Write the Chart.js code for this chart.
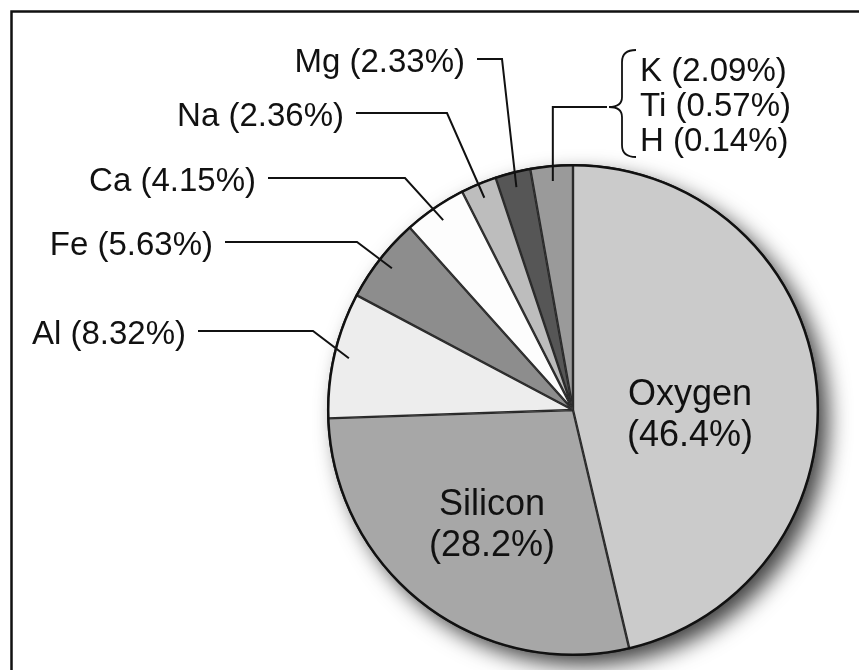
<!DOCTYPE html>
<html lang="en">
<head>
<meta charset="UTF-8">
<title>Elements in the Earth's crust</title>
<script src="https://cdn.jsdelivr.net/npm/chart.js"></script>
<style>
  html, body { margin: 0; padding: 0; background: #fff; overflow: hidden; }
  #wrap { width: 859px; height: 670px; }
</style>
</head>
<body>
<div id="wrap"><canvas id="crustChart" width="859" height="670"></canvas></div>

<script>
// percent by weight, clockwise from 12 o'clock
const elementNames = ['Oxygen', 'Silicon', 'Al', 'Fe', 'Ca', 'Na', 'Mg'];
const elementPercents = [46.4, 28.2, 8.32, 5.63, 4.15, 2.36, 2.33];
// the last slice lumps these together
const minorNames = ['K', 'Ti', 'H'];
const minorPercents = [2.09, 0.57, 0.14];

const sliceNames = elementNames.concat([minorNames.join(', ')]);
const sliceValues = elementPercents.concat([minorPercents.reduce((a, b) => a + b, 0)]);

const sliceColors = ['#cbcbcb', '#a7a7a7', '#ededed', '#8d8d8d', '#fdfdfd', '#bdbdbd', '#565656', '#9a9a9a'];

const fontFamily = '"Liberation Sans", Arial, Helvetica, sans-serif';
const ink = '#111';

// label placement (text baseline, right edge of text, x of the leader's bend)
const calloutRows = {
    Mg: {base: 72, right: 465, bend: 502},
    Na: {base: 126, right: 344, bend: 447},
    Ca: {base: 191, right: 256, bend: 405},
    Fe: {base: 255, right: 213, bend: 357},
    Al: {base: 344, right: 186, bend: 313}
};
const groupSpot = {lineY: 107, braceX: 609, braceTop: 50, braceBottom: 157, textX: 640, firstBase: 81, gap: 35};
const innerSpots = {
    Oxygen: {dx: 117, base: -5},
    Silicon: {dx: -81, base: 105}
};

const pct = v => '(' + v + '%)';

const frame = {
    id: 'frame',
    beforeDraw(chart) {
        const c = chart.ctx;
        c.save();
        c.fillStyle = '#fff';
        c.fillRect(0, 0, chart.width, chart.height);
        c.strokeStyle = '#111';
        c.lineWidth = 2.5;
        c.strokeRect(11.5, 11.5, chart.width + 20, chart.height + 20);
        c.restore();
    }
};

const pieShadow = {
    id: 'pieShadow',
    beforeDatasetsDraw(chart) {
        const arc = chart.getDatasetMeta(0).data[0];
        const c = chart.ctx;
        c.save();
        c.shadowColor = 'rgba(0,0,0,0.75)';
        c.shadowBlur = 22;
        c.shadowOffsetX = 10;
        c.shadowOffsetY = 10;
        c.fillStyle = '#fff';
        c.beginPath();
        c.arc(arc.x, arc.y, arc.outerRadius - 1, 0, Math.PI * 2);
        c.fill();
        c.restore();
    },
    afterDatasetsDraw(chart) {
        const arc = chart.getDatasetMeta(0).data[0];
        const c = chart.ctx;
        c.save();
        c.strokeStyle = ink;
        c.lineWidth = 2.5;
        c.beginPath();
        c.arc(arc.x, arc.y, arc.outerRadius - 1.2, 0, Math.PI * 2);
        c.stroke();
        c.restore();
    }
};

function anchor(arc, f) {
    const mid = (arc.startAngle + arc.endAngle) / 2;
    return {x: arc.x + Math.cos(mid) * arc.outerRadius * f, y: arc.y + Math.sin(mid) * arc.outerRadius * f};
}

const callouts = {
    id: 'callouts',
    afterDraw(chart) {
        const c = chart.ctx;
        const arcs = chart.getDatasetMeta(0).data;
        c.save();
        c.strokeStyle = ink;
        c.fillStyle = ink;
        c.lineWidth = 2;

        // outside labels with bent leaders
        c.font = '33px ' + fontFamily;
        c.textAlign = 'right';
        c.textBaseline = 'alphabetic';
        elementNames.forEach((name, i) => {
            const row = calloutRows[name];
            if (!row) return;
            const p = anchor(arcs[i], 0.935);
            const ly = row.base - 13;
            c.beginPath();
            c.moveTo(row.right + 12, ly);
            c.lineTo(row.bend, ly);
            c.lineTo(p.x, p.y);
            c.stroke();
            c.fillText(name + ' ' + pct(elementPercents[i]), row.right, row.base);
        });

        // grouped slice: elbow up to a brace
        const g = anchor(arcs[arcs.length - 1], 0.935);
        c.beginPath();
        c.moveTo(g.x, g.y);
        c.lineTo(g.x, groupSpot.lineY);
        c.lineTo(groupSpot.braceX - 2, groupSpot.lineY);
        c.stroke();

        const bx = groupSpot.braceX, t = groupSpot.braceTop, b = groupSpot.braceBottom, m = groupSpot.lineY;
        const rx = bx + 27, cx = bx + 13;
        c.lineWidth = 1.8;
        c.beginPath();
        c.moveTo(rx, t);
        c.quadraticCurveTo(cx, t, cx, t + 12);
        c.lineTo(cx, m - 10);
        c.quadraticCurveTo(cx, m, bx, m);
        c.quadraticCurveTo(cx, m, cx, m + 10);
        c.lineTo(cx, b - 12);
        c.quadraticCurveTo(cx, b, rx, b);
        c.stroke();

        c.textAlign = 'left';
        minorNames.forEach((name, i) => {
            c.fillText(name + ' ' + pct(minorPercents[i]), groupSpot.textX, groupSpot.firstBase + i * groupSpot.gap);
        });

        // labels inside the two big slices
        c.font = '36px ' + fontFamily;
        c.textAlign = 'center';
        elementNames.forEach((name, i) => {
            const s = innerSpots[name];
            if (!s) return;
            const a = arcs[i];
            c.fillText(name, a.x + s.dx, a.y + s.base);
            c.fillText(pct(elementPercents[i]), a.x + s.dx, a.y + s.base + 41);
        });
        c.restore();
    }
};

new Chart(document.getElementById('crustChart'), {
    type: 'pie',
    data: {
        labels: sliceNames,
        datasets: [{
            data: sliceValues,
            backgroundColor: sliceColors,
            borderColor: '#2a2a2a',
            borderWidth: 1.2,
            borderAlign: 'inner'
        }]
    },
    options: {
        responsive: false,
        animation: false,
        radius: 246,
        layout: {padding: {left: 327, right: 40, top: 160, bottom: 10}},
        plugins: {
            legend: {display: false},
            tooltip: {enabled: false}
        }
    },
    plugins: [frame, pieShadow, callouts]
});
</script>
</body>
</html>
